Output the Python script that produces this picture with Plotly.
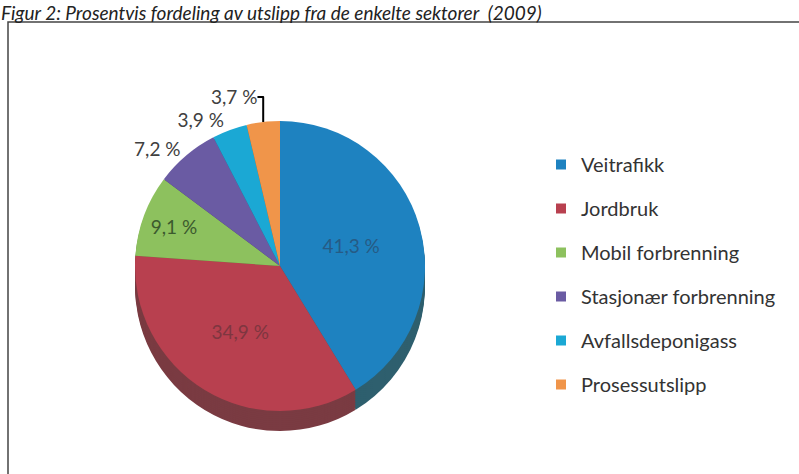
import plotly.graph_objects as go

# ---- data ----
sectors = ["Veitrafikk", "Jordbruk", "Mobil forbrenning", "Stasjonær forbrenning",
           "Avfallsdeponigass", "Prosessutslipp"]
shares = [41.3, 34.9, 9.1, 7.2, 3.9, 3.7]
label_pos = ["inside", "inside", "inside", "outside", "outside", "outside"]
title_text = "Figur 2: Prosentvis fordeling av utslipp fra de enkelte sektorer  (2009)"

# ---- style ----
top_colors = ["#1E82C0", "#B8404F", "#8DC15E", "#6A5BA3", "#1BA8D4", "#F0954A"]
side_colors = ["#2E5F6E", "#7A3B42", "#56763A", "#45396A", "#1A6A86", "#9A5E2E"]
label_colors = ["#265B85", "#7E3640", "#3C5A2E", "#404040", "#404040", "#404040"]

W, H = 799, 474
CX, CY_TOP, DIAM = 280, 121, 290   # pixel geometry of the top face
DEPTH, STEP = 20, 2
FONT = "Lato, Carlito, Calibri, sans-serif"


def domain(offset):
    x0 = (CX - DIAM / 2) / W
    x1 = (CX + DIAM / 2) / W
    ytop = CY_TOP + offset
    return dict(x=[x0, x1], y=[1 - (ytop + DIAM) / H, 1 - ytop / H])


labels_txt = [f"{v:.1f} %".replace(".", ",") for v in shares]

fig = go.Figure()

# side of the "3D" pie: stacked darker layers
for off in range(DEPTH, 0, -STEP):
    fig.add_trace(go.Pie(
        labels=sectors, values=shares, sort=False, direction="clockwise", rotation=0,
        marker=dict(colors=side_colors, line=dict(width=0)),
        textinfo="none", hoverinfo="skip", showlegend=False, domain=domain(off),
    ))

# top face
fig.add_trace(go.Pie(
    labels=sectors, values=shares, sort=False, direction="clockwise", rotation=0,
    marker=dict(colors=top_colors, line=dict(width=0)),
    text=labels_txt, textinfo="text", textposition=label_pos,
    insidetextorientation="horizontal",
    textfont=dict(family=FONT, size=19, color=label_colors),
    showlegend=False, domain=domain(0),
))

# legend entries
for name, col in zip(sectors, top_colors):
    fig.add_trace(go.Scatter(
        x=[None], y=[None], mode="markers", name=name, legendgroup=name,
        marker=dict(symbol="square", size=10, color=col),
    ))

fig.add_annotation(
    text=title_text, xref="paper", yref="paper", x=0.0, y=1.0,
    xanchor="left", yanchor="top", showarrow=False, borderpad=0,
    font=dict(family=FONT, size=19, color="#222222", style="italic"),
)

fig.add_shape(type="rect", xref="paper", yref="paper",
              x0=8 / W, x1=1.05, y0=-0.05, y1=1 - 22 / H,
              line=dict(color="#444444", width=1.5))

fig.update_layout(
    width=W, height=H, margin=dict(l=0, r=0, t=0, b=0),
    paper_bgcolor="white", plot_bgcolor="white",
    xaxis=dict(visible=False), yaxis=dict(visible=False),
    legend=dict(x=541 / W, y=1 - 145 / H, xanchor="left", yanchor="top",
                font=dict(family=FONT, size=20, color="#333333"),
                tracegroupgap=15, itemwidth=30, bgcolor="rgba(0,0,0,0)"),
)

fig.write_html("out.html", config={"displayModeBar": False},
               post_script="document.body.style.margin='0';")
